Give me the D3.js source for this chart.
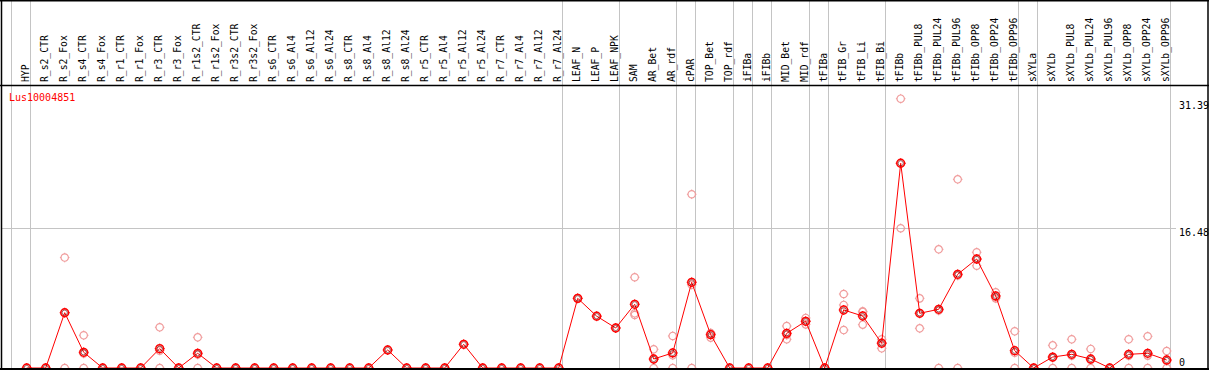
<!DOCTYPE html>
<html>
<head>
<meta charset="utf-8">
<script src="https://cdn.jsdelivr.net/npm/d3@7"></script>
<style>
  body { margin: 0; background: #fff; }
  svg { display: block; }
  text { font-family: "DejaVu Sans Mono", "Liberation Mono", monospace; }
</style>
</head>
<body>
<svg width="1209" height="370"></svg>
<script>
// sample names along the top
var categories = ["HYP", "R_s2_CTR", "R_s2_Fox", "R_s4_CTR", "R_s4_Fox", "R_r1_CTR", "R_r1_Fox",
  "R_r3_CTR", "R_r3_Fox", "R_r1s2_CTR", "R_r1s2_Fox", "R_r3s2_CTR", "R_r3s2_Fox",
  "R_s6_CTR", "R_s6_Al4", "R_s6_Al12", "R_s6_Al24", "R_s8_CTR", "R_s8_Al4", "R_s8_Al12", "R_s8_Al24",
  "R_r5_CTR", "R_r5_Al4", "R_r5_Al12", "R_r5_Al24", "R_r7_CTR", "R_r7_Al4", "R_r7_Al12", "R_r7_Al24",
  "LEAF_N", "LEAF_P", "LEAF_NPK", "SAM", "AR_Bet", "AR_rdf", "cPAR", "TOP_Bet", "TOP_rdf",
  "iFIBa", "iFIBb", "MID_Bet", "MID_rdf", "tFIBa", "tFIB_Gr", "tFIB_Li", "tFIB_Bi", "tFIBb",
  "tFIBb_PUL8", "tFIBb_PUL24", "tFIBb_PUL96", "tFIBb_OPP8", "tFIBb_OPP24", "tFIBb_OPP96",
  "sXYLa", "sXYLb", "sXYLb_PUL8", "sXYLb_PUL24", "sXYLb_PUL96", "sXYLb_OPP8", "sXYLb_OPP24", "sXYLb_OPP96"];

// mean expression per sample
var means = [0, 0, 6.51, 1.85, 0, 0, 0, 2.28, 0, 1.73, 0, 0, 0,
  0, 0, 0, 0, 0, 0, 2.12, 0,
  0, 0, 2.79, 0, 0, 0, 0, 0,
  8.20, 6.10, 4.71, 7.50, 1.06, 1.77, 10.09, 3.92, 0,
  0, 0, 4.08, 5.50, 0, 6.83, 6.12, 2.91, 24.10,
  6.44, 6.91, 11.03, 12.83, 8.48, 2.04,
  0, 1.29, 1.61, 1.06, 0, 1.61, 1.73, 0.94];

// single replicates per sample
var replicates = [[0], [0], [13.0, 6.5, 0], [3.85, 1.7, 0], [0], [0], [0], [4.79, 2.05, 0], [0], [3.61, 1.58, 0], [0], [0], [0],
  [0], [0], [0], [0], [0], [0], [2.12], [0],
  [0], [0], [2.79], [0], [0], [0], [0], [0],
  [8.20], [6.10], [4.71], [10.68, 6.44, 6.24], [2.2, 1.0, 0], [3.77, 1.5, 0], [20.45, 9.8, 0], [4.08, 3.57, 4.1], [0],
  [0], [0], [4.94, 3.38, 3.9], [5.89, 5.14, 5.5], [0], [8.71, 7.42, 4.47], [6.67, 5.10, 6.6], [3.38, 2.32, 3.0], [31.7, 16.45, 24.1],
  [8.2, 4.67, 6.45], [13.97, 6.76, 0], [22.21, 10.88, 0], [13.62, 12.04, 12.8], [8.91, 8.32, 8.2], [4.32, 1.8, 0],
  [0], [2.67, 1.2, 0], [3.38, 1.45, 0], [2.24, 0.95, 0], [0], [3.38, 1.45, 0], [3.73, 1.46, 0], [2.0, 0.82, 0]];

var yTicks = [0, 16.48, 31.39];
var groupStarts = ["HYP", "R_s2_CTR", "LEAF_N", "SAM", "cPAR", "TOP_Bet", "iFIBa", "iFIBb",
  "MID_Bet", "tFIBa", "tFIB_Gr", "tFIBb", "sXYLa", "sXYLb"];
var geneName = "Lus10004851";

var svg = d3.select("svg"),
    width = +svg.attr("width"),
    height = +svg.attr("height"),
    headerY = 85,
    plotRight = 1170;

var x = d3.scaleBand()
    .domain(categories)
    .range([11, plotRight]);

var cx = function(c) { return x(c) + 15.7; };

var y = d3.scaleLinear()
    .domain([0, 16.48])
    .range([368, 228]);

// group separators (full height)
var seps = groupStarts.map(function(c) { return x(c); }).concat([plotRight]);
svg.append("g")
  .selectAll("line")
  .data(seps)
  .enter().append("line")
    .attr("x1", function(d) { return Math.round(d) + 0.5; })
    .attr("x2", function(d) { return Math.round(d) + 0.5; })
    .attr("y1", 0)
    .attr("y2", height)
    .attr("stroke", "#c4c4c4")
    .attr("stroke-width", 1);

// horizontal gridline
svg.append("g")
  .selectAll("line")
  .data(yTicks.slice(1, 2))
  .enter().append("line")
    .attr("x1", 2)
    .attr("x2", 1176)
    .attr("y1", function(d) { return Math.round(y(d)) + 0.5; })
    .attr("y2", function(d) { return Math.round(y(d)) + 0.5; })
    .attr("stroke", "#c4c4c4");

// marker with little ticks round the ring
function marker(sel, r, color, sw) {
  sel.append("circle")
      .attr("r", r)
      .attr("fill", "none")
      .attr("stroke", color)
      .attr("stroke-width", sw);
  [[0, -1], [0, 1], [-1, 0], [1, 0]].forEach(function(v) {
    sel.append("line")
        .attr("x1", v[0] * r)
        .attr("y1", v[1] * r)
        .attr("x2", v[0] * (r + 1.1))
        .attr("y2", v[1] * (r + 1.1))
        .attr("stroke", color)
        .attr("stroke-width", 1);
  });
}

// replicates
var reps = [];
categories.forEach(function(c, i) {
  replicates[i].forEach(function(v) { reps.push({ c: c, v: v }); });
});
svg.append("g")
  .selectAll("g")
  .data(reps)
  .enter().append("g")
    .attr("transform", function(d) { return "translate(" + cx(d.c) + "," + y(d.v) + ")"; })
    .each(function() { marker(d3.select(this), 3.7, "#f09c9c", 1.2); });

// mean line
var line = d3.line()
    .x(function(d, i) { return cx(categories[i]); })
    .y(function(d) { return y(d); });

svg.append("path")
    .datum(means)
    .attr("d", line)
    .attr("fill", "none")
    .attr("stroke", "#ff0000")
    .attr("stroke-width", 1);

var pts = svg.append("g")
  .selectAll("g")
  .data(means)
  .enter().append("g")
    .attr("transform", function(d, i) { return "translate(" + cx(categories[i]) + "," + y(d) + ")"; });
pts.each(function() { marker(d3.select(this), 3.9, "#ff0000", 1.5); });
pts.append("circle")
    .attr("r", 2.6)
    .attr("fill", "none")
    .attr("stroke", "#600")
    .attr("stroke-width", 0.6);

// frame
svg.append("line").attr("x1", 0).attr("x2", width).attr("y1", 0.5).attr("y2", 0.5).attr("stroke", "#000").attr("stroke-width", 2);
svg.append("line").attr("x1", 0).attr("x2", width).attr("y1", headerY + 0.5).attr("y2", headerY + 0.5).attr("stroke", "#000").attr("stroke-width", 1.5);
svg.append("line").attr("x1", 0).attr("x2", width).attr("y1", 369).attr("y2", 369).attr("stroke", "#000").attr("stroke-width", 2);
svg.append("line").attr("x1", 1.5).attr("x2", 1.5).attr("y1", 0).attr("y2", height).attr("stroke", "#000").attr("stroke-width", 1.5);
svg.append("line").attr("x1", 1208).attr("x2", 1208).attr("y1", 0).attr("y2", height).attr("stroke", "#000").attr("stroke-width", 1.5);

// column labels
svg.append("g")
  .selectAll("text")
  .data(categories)
  .enter().append("text")
    .attr("transform", function(d) { return "translate(" + (cx(d) + 2.4) + ",82)rotate(-90)"; })
    .attr("font-size", "11px")
    .attr("textLength", function(d) { return d.length * 5.84; })
    .attr("lengthAdjust", "spacingAndGlyphs")
    .attr("fill", "#000")
    .text(function(d) { return d; });

// right axis labels
svg.append("g")
  .selectAll("text")
  .data(yTicks)
  .enter().append("text")
    .attr("x", 1179)
    .attr("y", function(d) { return Math.min(y(d) + 4, 362); })
    .attr("dy", "0.35em")
    .attr("font-size", "10px")
    .attr("fill", "#000")
    .text(function(d) { return d; });

svg.append("text")
    .attr("x", 9)
    .attr("y", 101)
    .attr("font-size", "10px")
    .attr("fill", "#ff0000")
    .text(geneName);
</script>
</body>
</html>
